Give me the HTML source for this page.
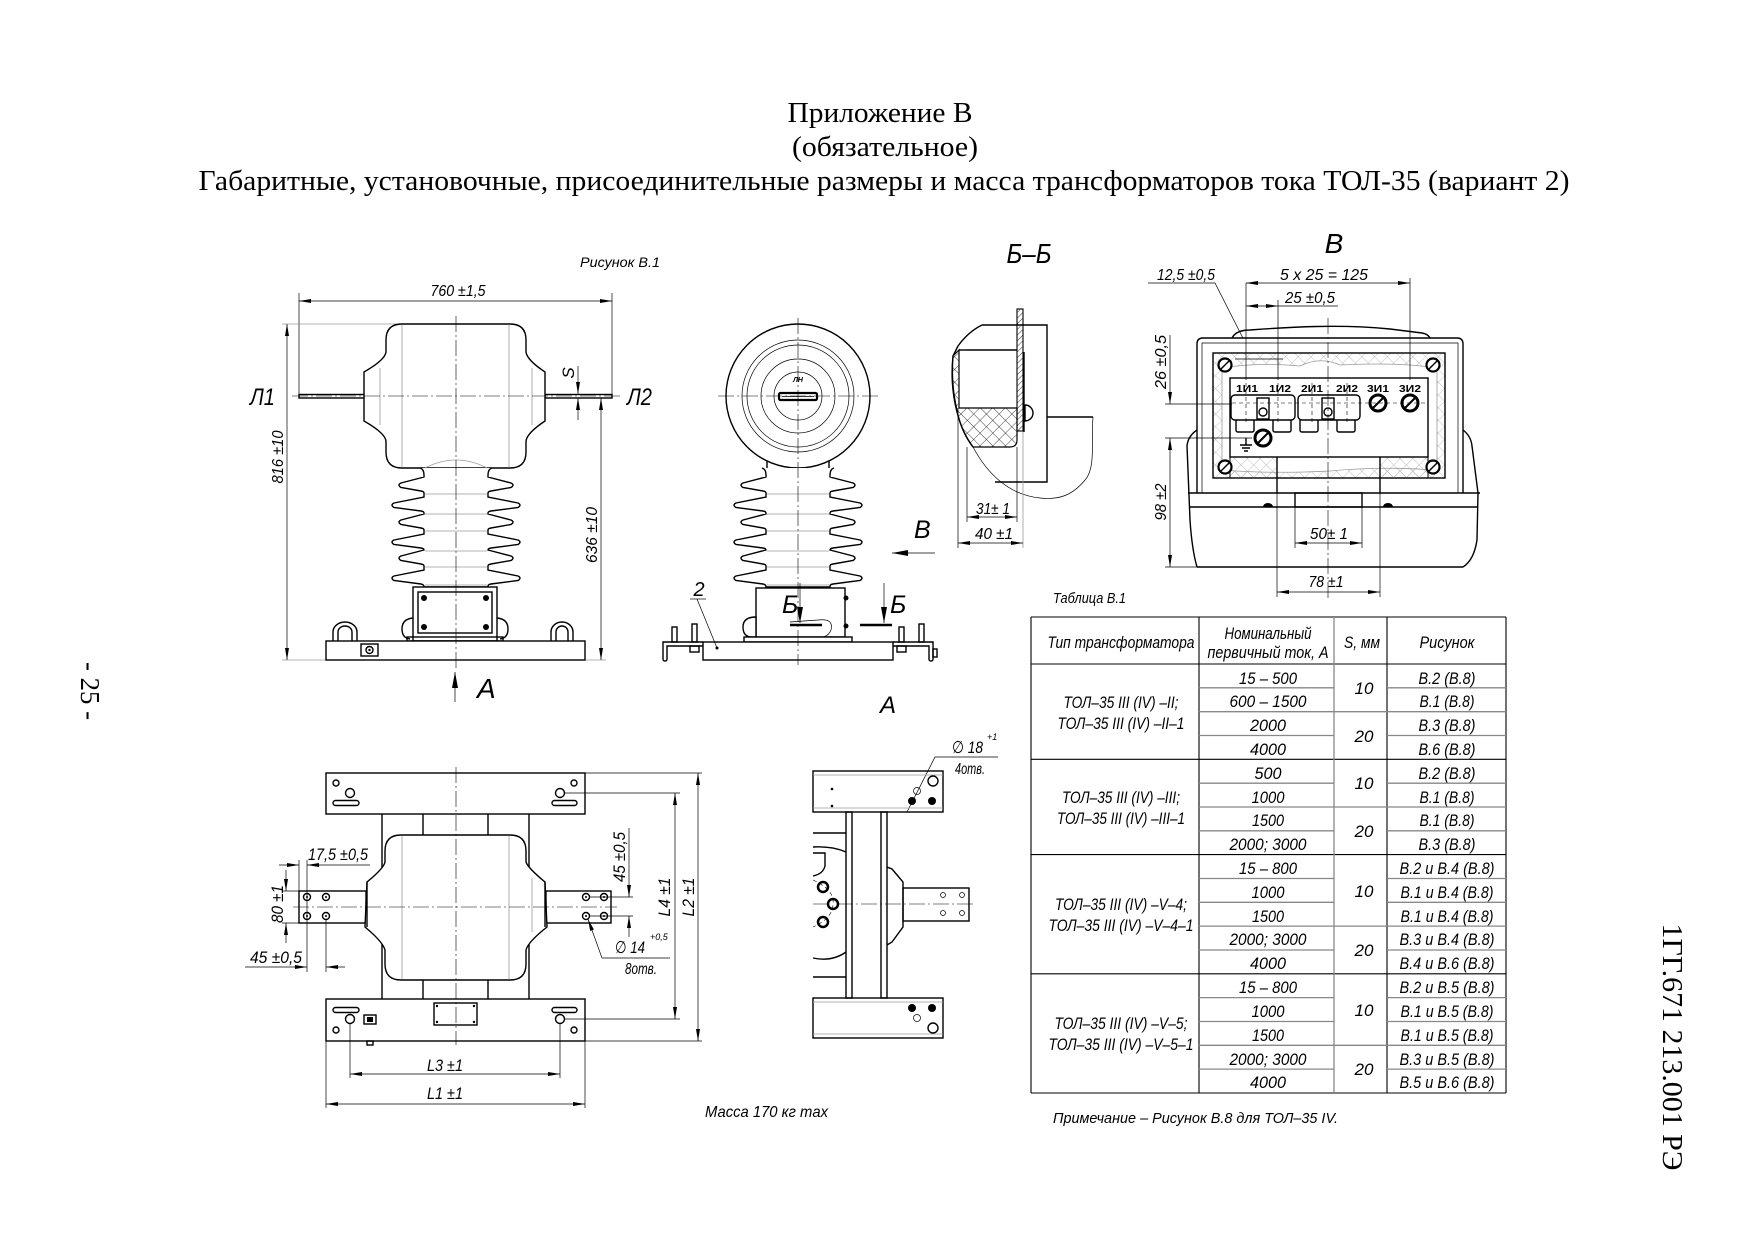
<!DOCTYPE html>
<html><head><meta charset="utf-8">
<style>
html,body{margin:0;padding:0;background:#fff;}
svg{display:block;font-family:"Liberation Sans","DejaVu Sans",sans-serif;font-style:italic;font-size:16px}
text{fill:#000}
.sr{font-family:"Liberation Serif","DejaVu Serif",serif;font-style:normal}
.o{stroke:#000;stroke-width:1.4;fill:none}
.w{stroke:#000;stroke-width:1.4;fill:#fff}
.t{stroke:#000;stroke-width:0.7;fill:none}
.g{stroke:#9a9a9a;stroke-width:0.8;fill:none}
.c{stroke:#000;stroke-width:0.6;fill:none;stroke-dasharray:16 3 2 3}
.dsh{stroke:#000;stroke-width:0.6;fill:none;stroke-dasharray:4 3}
.tb{stroke:#000;stroke-width:1.1;fill:none}
.tg{stroke:#888;stroke-width:1.3;fill:none}
</style></head><body>
<svg width="1755" height="1241" viewBox="0 0 1755 1241" xmlns="http://www.w3.org/2000/svg">
<defs>
<marker id="ar" viewBox="0 0 12 4" refX="12" refY="2" markerWidth="12" markerHeight="4" orient="auto-start-reverse" markerUnits="userSpaceOnUse"><path d="M0,0 L12,2 L0,4 z" fill="#000"/></marker>
<marker id="ar2" viewBox="0 0 16 6" refX="16" refY="3" markerWidth="16" markerHeight="6" orient="auto-start-reverse" markerUnits="userSpaceOnUse"><path d="M0,0 L16,3 L0,6 z" fill="#000"/></marker>
<pattern id="h1" width="4" height="4" patternUnits="userSpaceOnUse" patternTransform="rotate(45)"><line x1="0" y1="0" x2="0" y2="4" stroke="#000" stroke-width="0.8"/></pattern>
<pattern id="hx" width="9" height="9" patternUnits="userSpaceOnUse" patternTransform="rotate(45)"><path d="M0,0 L0,9 M0,0 L9,0" stroke="#000" stroke-width="0.7"/></pattern>
<pattern id="hg" width="9" height="9" patternUnits="userSpaceOnUse" patternTransform="rotate(45)"><path d="M0,0 L0,9 M0,0 L9,0" stroke="#aaa" stroke-width="0.7"/></pattern>
<path id="ins" class="w" d="M420,468 Q424,469 424,475 L424,477 L401,483 Q397,485 401,487.5 L421,491 Q424,491.5 424,493 L424,497 L394,503 Q390,505 394,507.5 L421,511 Q424,511.5 424,513 L424,514 L401,520 Q397,522 401,524.5 L421,528 Q424,528.5 424,530 L424,534 L394,540 Q390,542 394,544.5 L421,548 Q424,548.5 424,550 L401,556 Q397,558 401,560.5 L421,564 Q424,564.5 424,566 L424,570 L394,576 Q390,578 394,580.5 L421,584 Q424,584.5 424,587 L488,587 L488,586 Q488,584.5 491,584 L518,580.5 Q522,578 518,576 L488,570 L488,566 Q488,564.5 491,564 L511,560.5 Q515,558 511,556 L488,550 Q488,548.5 491,548 L518,544.5 Q522,542 518,540 L488,534 L488,530 Q488,528.5 491,528 L511,524.5 Q515,522 511,520 L488,514 L488,513 Q488,511.5 491,511 L518,507.5 Q522,505 518,503 L488,497 L488,493 Q488,491.5 491,491 L511,487.5 Q515,485 511,483 L488,477 L488,475 Q488,469 492,468"/>
<g id="insg">
<path class="g" d="M425,494 L487,494 M425,514 L487,514 M425,531 L487,531 M425,551 L487,551 M425,567 L487,567 M425,585 L487,585"/>
</g>
</defs>
<rect width="1755" height="1241" fill="#fff"/>

<!-- HEADER -->
<text class="sr" x="880" y="122" font-size="28" text-anchor="middle" textLength="185" lengthAdjust="spacingAndGlyphs">Приложение В</text>
<text class="sr" x="885" y="156" font-size="28" text-anchor="middle" textLength="186" lengthAdjust="spacingAndGlyphs">(обязательное)</text>
<text class="sr" x="884" y="190" font-size="28" text-anchor="middle" textLength="1371" lengthAdjust="spacingAndGlyphs">Габаритные, установочные, присоединительные размеры и масса трансформаторов тока ТОЛ-35 (вариант 2)</text>
<text class="sr" transform="translate(81,691) rotate(90)" font-size="27" text-anchor="middle" textLength="58" lengthAdjust="spacingAndGlyphs">- 25 -</text>
<text class="sr" transform="translate(1663,1047) rotate(90)" font-size="28" text-anchor="middle" textLength="247" lengthAdjust="spacingAndGlyphs">1ГГ.671 213.001 РЭ</text>

<!-- LEFT VIEW -->
<text x="620" y="267" font-size="14" text-anchor="middle" textLength="80" lengthAdjust="spacingAndGlyphs">Рисунок В.1</text>
<line class="t" x1="299" y1="293" x2="299" y2="394"/>
<line class="t" x1="612" y1="293" x2="612" y2="394"/>
<line class="t" x1="299" y1="301" x2="612" y2="301" marker-start="url(#ar)" marker-end="url(#ar)"/>
<text x="458" y="296" text-anchor="middle" textLength="55" lengthAdjust="spacingAndGlyphs">760 ±1,5</text>
<line class="g" x1="282" y1="324" x2="402" y2="324"/>
<line class="g" x1="282" y1="660" x2="606" y2="660"/>
<line class="t" x1="287" y1="324" x2="287" y2="660" marker-start="url(#ar)" marker-end="url(#ar)"/>
<text transform="translate(283,457) rotate(-90)" text-anchor="middle" textLength="53" lengthAdjust="spacingAndGlyphs">816 ±10</text>
<line class="t" x1="548" y1="398" x2="606" y2="398"/>
<line class="t" x1="601" y1="398" x2="601" y2="660" marker-start="url(#ar)" marker-end="url(#ar)"/>
<text transform="translate(597,535) rotate(-90)" text-anchor="middle" textLength="56" lengthAdjust="spacingAndGlyphs">636 ±10</text>
<line class="t" x1="578" y1="366" x2="578" y2="394" marker-end="url(#ar)"/>
<line class="t" x1="578" y1="420" x2="578" y2="398" marker-end="url(#ar)"/>
<text transform="translate(574,373) rotate(-90)" text-anchor="middle" font-size="17">S</text>
<text x="250" y="405" font-size="24" textLength="25" lengthAdjust="spacingAndGlyphs">Л1</text>
<text x="627" y="405" font-size="24" textLength="25" lengthAdjust="spacingAndGlyphs">Л2</text>

<rect class="w" x="299" y="394.5" width="66" height="3.5"/>
<rect class="w" x="545" y="394.5" width="67" height="3.5"/>
<!-- body -->
<path class="w" d="M402,324 L510,324 Q526,324 526,340 L526,352 Q527,360 545,372 L545,421 Q527,433 526,441 L526,452 Q526,468 510,468 L402,468 Q386,468 386,452 L386,441 Q385,433 364,421 L364,372 Q385,360 386,352 L386,340 Q386,324 402,324 Z"/>
<line class="g" x1="402" y1="325" x2="402" y2="467"/>
<line class="g" x1="509" y1="325" x2="509" y2="467"/>
<line class="g" x1="532" y1="368" x2="532" y2="425"/>
<line class="g" x1="380" y1="368" x2="380" y2="425"/>
<use href="#ins"/>
<use href="#insg"/>
<path class="g" d="M425,468 Q456,452 487,468"/>
<!-- box -->
<rect class="w" x="413" y="587" width="84" height="54"/>
<rect class="o" x="418" y="592" width="74" height="41"/>
<circle cx="424" cy="598" r="3" fill="#000"/>
<circle cx="486" cy="598" r="3" fill="#000"/>
<circle cx="424" cy="627" r="3" fill="#000"/>
<circle cx="486" cy="627" r="3" fill="#000"/>
<path class="o" d="M413,618 Q402,619 402,629 Q402,638 410,639"/>
<path class="o" d="M497,618 Q508,619 508,629 Q508,638 500,639"/>
<rect class="o" x="407" y="637" width="96" height="4"/>
<!-- base -->
<rect class="w" x="326" y="641" width="259" height="19"/>
<path class="o" d="M333,641 L333,632 A12,10 0 0 1 357,632 L357,641"/>
<path class="o" d="M338,641 L338,632 A7,6 0 0 1 352,632 L352,641"/>
<path class="o" d="M551,641 L551,632 A11,10 0 0 1 573,632 L573,641"/>
<path class="o" d="M556,641 L556,632 A6,6 0 0 1 568,632 L568,641"/>
<rect class="o" x="361" y="644" width="17" height="12"/>
<circle class="o" cx="369.5" cy="650" r="3.5"/>
<circle cx="369.5" cy="650" r="1.2" fill="#000"/>
<line class="c" x1="456" y1="316" x2="456" y2="668"/>
<line class="c" x1="292" y1="396" x2="620" y2="396"/>
<line class="t" x1="455" y1="702" x2="455" y2="672" marker-end="url(#ar2)"/>
<text x="477" y="698" font-size="28">А</text>

<!-- MIDDLE VIEW -->
<line class="o" x1="767" y1="460" x2="767" y2="470"/>
<line class="o" x1="829" y1="460" x2="829" y2="470"/>
<circle class="w" cx="798" cy="396" r="72"/>
<circle class="t" cx="798" cy="396" r="56"/>
<circle class="t" cx="798" cy="396" r="51"/>
<circle class="t" cx="798" cy="396" r="37"/>
<circle class="t" cx="798" cy="396" r="24"/>
<rect x="779" y="393" width="38" height="7" rx="1.5" stroke="#000" stroke-width="2.2" fill="#fff"/>
<line class="t" x1="782" y1="396.5" x2="814" y2="396.5"/>
<text x="798" y="382" font-size="7" font-weight="bold" text-anchor="middle">ЛН</text>
<use href="#ins" transform="translate(342,0)"/>
<use href="#insg" transform="translate(342,0)"/>
<rect class="w" x="756" y="588" width="89" height="49"/>
<path class="w" d="M756,617 Q743,617 743,627 Q743,637 752,637 L756,637 Z"/>
<circle cx="846" cy="598" r="2.5" fill="#000"/>
<circle cx="846" cy="626" r="2.5" fill="#000"/>
<path class="t" d="M790,622 L818,620 Q834,618 831,630 Q828,638 818,637"/>
<rect class="w" x="744" y="637" width="108" height="5"/>
<rect class="w" x="703" y="642" width="190" height="18"/>
<circle cx="717" cy="648" r="1.5" fill="#000"/>
<!-- brackets -->
<path class="o" d="M703,642 L663,642 L663,659 Q663,661 665,661 Q667,661 667,659 L667,646 L703,646"/>
<rect class="o" x="672" y="627" width="5" height="15"/>
<rect class="o" x="692" y="624" width="5" height="18"/>
<rect class="o" x="690" y="646" width="9" height="6"/>
<path class="o" d="M893,642 L933,642 L933,659 Q933,661 931,661 Q929,661 929,659 L929,646 L893,646"/>
<rect class="o" x="899" y="627" width="5" height="15"/>
<rect class="o" x="919" y="624" width="5" height="18"/>
<rect class="o" x="897" y="646" width="9" height="6"/>
<rect class="o" x="933" y="649" width="4" height="8"/>
<line class="c" x1="798" y1="318" x2="798" y2="665"/>
<line class="c" x1="718" y1="396" x2="878" y2="396"/>
<text x="699" y="596" font-size="20" text-anchor="middle">2</text>
<polyline class="t" points="690,599 706,599"/>
<line class="t" x1="697" y1="599" x2="717" y2="648"/>
<!-- section marks -->
<line class="t" x1="800" y1="583" x2="800" y2="623" marker-end="url(#ar2)"/>
<line x1="790" y1="625" x2="822" y2="625" stroke="#000" stroke-width="2.5"/>
<text x="782" y="613" font-size="25">Б</text>
<line class="t" x1="884" y1="583" x2="884" y2="623" marker-end="url(#ar2)"/>
<line x1="860" y1="625" x2="892" y2="625" stroke="#000" stroke-width="2.5"/>
<text x="890" y="613" font-size="25">Б</text>
<line class="t" x1="935" y1="553" x2="892" y2="553" marker-end="url(#ar2)"/>
<text x="914" y="538" font-size="25">В</text>

<!-- SECTION Б-Б -->
<text x="1029" y="263" font-size="28" text-anchor="middle" textLength="45" lengthAdjust="spacingAndGlyphs">Б–Б</text>
<path class="o" d="M982,325 L1047,325 L1047,482 L995,482"/>
<line class="o" x1="1047" y1="417" x2="1093" y2="417"/>
<path class="t" d="M1093,417 C1091,440 1096,468 1085,480 C1072,496 1058,500 1040,498 C1010,495 988,475 973,447"/>
<path class="o" d="M982,325 Q968,332 958,346 L953,356 Q950,385 957,412 Q962,432 973,447"/>
<path d="M953,356 L959,350 L959,408 L1017,408 L1017,440 Q1017,447 1010,447 L973,447 Q961,432 957,410 Q951,385 953,356 Z" fill="url(#hx)" stroke="#000" stroke-width="1.2"/>
<line class="o" x1="967" y1="350" x2="1017" y2="350"/>
<line class="o" x1="959" y1="350" x2="967" y2="350"/>
<rect x="1017" y="309" width="6" height="122" fill="url(#h1)" stroke="#000" stroke-width="1.1"/>
<line class="o" x1="1024" y1="352" x2="1024" y2="432"/>
<path class="w" d="M1025,405 A8,8 0 0 1 1025,421 Z"/>
<line class="t" x1="958" y1="408" x2="958" y2="548"/>
<line class="t" x1="967" y1="447" x2="967" y2="522"/>
<line class="t" x1="1017" y1="447" x2="1017" y2="522"/>
<line class="g" x1="1023" y1="432" x2="1023" y2="548"/>
<line class="t" x1="967" y1="517" x2="1017" y2="517" marker-start="url(#ar)" marker-end="url(#ar)"/>
<text x="993" y="514" text-anchor="middle" textLength="34" lengthAdjust="spacingAndGlyphs">31± 1</text>
<line class="t" x1="958" y1="543" x2="1023" y2="543" marker-start="url(#ar)" marker-end="url(#ar)"/>
<text x="994" y="539" text-anchor="middle" textLength="38" lengthAdjust="spacingAndGlyphs">40 ±1</text>

<!-- VIEW В -->
<text x="1334" y="253" font-size="28" text-anchor="middle">В</text>
<text x="1186" y="280" text-anchor="middle" textLength="58" lengthAdjust="spacingAndGlyphs">12,5 ±0,5</text>
<polyline class="t" points="1148,283 1215,283 1253,358"/>
<line class="t" x1="1246" y1="283" x2="1410" y2="283" marker-start="url(#ar)" marker-end="url(#ar)"/>
<text x="1324" y="280" text-anchor="middle" textLength="88" lengthAdjust="spacingAndGlyphs">5 x 25 = 125</text>
<line class="t" x1="1246" y1="306" x2="1278" y2="306" marker-start="url(#ar)" marker-end="url(#ar)"/>
<line class="t" x1="1278" y1="306" x2="1338" y2="306"/>
<text x="1310" y="303" text-anchor="middle" textLength="50" lengthAdjust="spacingAndGlyphs">25 ±0,5</text>
<path class="o" d="M1232,338 Q1236,330 1250,330 C1290,327 1340,324 1390,329 L1422,333 Q1428,334 1430,338"/>
<path class="w" d="M1197,493 L1197,344 Q1197,338 1203,338 L1457,338 Q1463,338 1463,344 L1463,493"/>
<path class="t" d="M1202,493 L1202,343 L1458,343 L1458,493"/>
<path class="o" d="M1197,430 Q1188,436 1187,446 L1190,520 Q1192,550 1197,567"/>
<path class="o" d="M1463,430 Q1471,436 1472,446 L1478,493 L1477,540 Q1474,560 1463,567"/>
<line class="o" x1="1197" y1="567" x2="1463" y2="567"/>
<line class="o" x1="1188" y1="493" x2="1480" y2="493"/>
<line class="o" x1="1189" y1="507" x2="1478" y2="507"/>
<rect class="o" x="1295" y="493" width="67" height="14"/>
<path d="M1263,507 A5,4 0 0 1 1273,507 Z" fill="#000"/>
<path d="M1383,507 A5,4 0 0 1 1393,507 Z" fill="#000"/>
<rect x="1213" y="353" width="232" height="125" fill="url(#hg)" stroke="#000" stroke-width="1.4"/>
<path d="M1222,368 Q1260,362 1300,366 Q1320,356 1340,365 Q1400,362 1437,368 L1437,470 Q1380,466 1330,471 Q1270,474 1222,470 Z" fill="#fff" stroke="#999" stroke-width="0.8"/>
<rect x="1230" y="457" width="47" height="21" fill="url(#hg)" stroke="#000" stroke-width="1"/>
<rect x="1380" y="457" width="48" height="21" fill="url(#hg)" stroke="#000" stroke-width="1"/>
<rect class="w" x="1230" y="378" width="198" height="79"/>
<line class="o" x1="1277" y1="457" x2="1277" y2="493"/>
<line class="o" x1="1380" y1="457" x2="1380" y2="493"/>
<g stroke="#000" stroke-width="2.2" fill="#fff">
<circle cx="1225" cy="365" r="6.5"/><circle cx="1433" cy="365" r="6.5"/>
<circle cx="1225" cy="467" r="6.5"/><circle cx="1433" cy="467" r="6.5"/>
</g>
<g stroke="#000" stroke-width="1.5">
<line x1="1221" y1="369" x2="1229" y2="361"/><line x1="1429" y1="369" x2="1437" y2="361"/>
<line x1="1221" y1="471" x2="1229" y2="463"/><line x1="1429" y1="471" x2="1437" y2="463"/>
</g>
<g font-size="10" font-weight="bold" font-style="normal" text-anchor="middle">
<text x="1247" y="392" textLength="22" lengthAdjust="spacingAndGlyphs">1И1</text>
<text x="1280" y="392" textLength="22" lengthAdjust="spacingAndGlyphs">1И2</text>
<text x="1312" y="392" textLength="22" lengthAdjust="spacingAndGlyphs">2И1</text>
<text x="1347" y="392" textLength="22" lengthAdjust="spacingAndGlyphs">2И2</text>
<text x="1378" y="392" textLength="22" lengthAdjust="spacingAndGlyphs">3И1</text>
<text x="1410" y="392" textLength="22" lengthAdjust="spacingAndGlyphs">3И2</text>
</g>
<rect class="o" x="1231" y="395" width="64" height="25" rx="4"/>
<rect class="o" x="1298" y="395" width="62" height="25" rx="4"/>
<path class="o" d="M1236,420 L1236,430 Q1236,432 1238,432 L1252,432 Q1254,432 1254,430 L1254,420"/>
<path class="o" d="M1273,420 L1273,430 Q1273,432 1275,432 L1289,432 Q1291,432 1291,430 L1291,420"/>
<path class="o" d="M1300,420 L1300,430 Q1300,432 1302,432 L1316,432 Q1318,432 1318,430 L1318,420"/>
<path class="o" d="M1337,420 L1337,430 Q1337,432 1339,432 L1353,432 Q1355,432 1355,430 L1355,420"/>
<rect class="w" x="1257" y="398" width="12" height="21"/>
<circle class="o" cx="1263" cy="412" r="4"/>
<rect class="w" x="1322" y="398" width="12" height="21"/>
<circle class="o" cx="1328" cy="412" r="4"/>
<g stroke="#000" stroke-width="3" fill="#fff">
<circle cx="1378" cy="403" r="8"/><circle cx="1410" cy="403" r="8"/><circle cx="1263" cy="438" r="8"/>
</g>
<g stroke="#000" stroke-width="2">
<line x1="1373" y1="408" x2="1383" y2="398"/><line x1="1405" y1="408" x2="1415" y2="398"/><line x1="1258" y1="443" x2="1268" y2="433"/>
</g>
<path class="o" d="M1246,438 L1246,445 M1240,445 L1252,445 M1242,448 L1250,448 M1244,451 L1248,451"/>
<line class="dsh" x1="1232" y1="403" x2="1428" y2="403"/>
<line class="dsh" x1="1246" y1="383" x2="1246" y2="422"/>
<line class="dsh" x1="1278" y1="383" x2="1278" y2="422"/>
<line class="dsh" x1="1312" y1="383" x2="1312" y2="422"/>
<line class="dsh" x1="1347" y1="383" x2="1347" y2="422"/>
<line class="t" x1="1246" y1="283" x2="1246" y2="380"/>
<line class="t" x1="1278" y1="300" x2="1278" y2="380"/>
<line class="t" x1="1410" y1="278" x2="1410" y2="380"/>
<line class="t" x1="1235" y1="359" x2="1283" y2="359"/>
<line class="t" x1="1165" y1="404" x2="1232" y2="404"/>
<line class="t" x1="1165" y1="438" x2="1252" y2="438"/>
<line class="t" x1="1165" y1="567" x2="1197" y2="567"/>
<line class="t" x1="1170" y1="335" x2="1170" y2="404" marker-end="url(#ar)"/>
<line class="t" x1="1170" y1="438" x2="1170" y2="567" marker-start="url(#ar)" marker-end="url(#ar)"/>
<text transform="translate(1166,362) rotate(-90)" text-anchor="middle" textLength="54" lengthAdjust="spacingAndGlyphs">26 ±0,5</text>
<text transform="translate(1166,502) rotate(-90)" text-anchor="middle" textLength="37" lengthAdjust="spacingAndGlyphs">98 ±2</text>
<line class="t" x1="1295" y1="507" x2="1295" y2="548"/>
<line class="t" x1="1362" y1="507" x2="1362" y2="548"/>
<line class="t" x1="1295" y1="543" x2="1362" y2="543" marker-start="url(#ar)" marker-end="url(#ar)"/>
<text x="1329" y="539" text-anchor="middle" textLength="38" lengthAdjust="spacingAndGlyphs">50± 1</text>
<line class="t" x1="1277" y1="493" x2="1277" y2="597"/>
<line class="t" x1="1380" y1="493" x2="1380" y2="597"/>
<line class="t" x1="1277" y1="592" x2="1380" y2="592" marker-start="url(#ar)" marker-end="url(#ar)"/>
<text x="1326" y="587" text-anchor="middle" textLength="35" lengthAdjust="spacingAndGlyphs">78 ±1</text>
<line class="c" x1="1328" y1="318" x2="1328" y2="600"/>

<!-- TABLE -->
<text x="1053" y="603" textLength="73" lengthAdjust="spacingAndGlyphs" font-size="15">Таблица В.1</text>
<g class="tb">
<line x1="1031" y1="617" x2="1506" y2="617"/>
<line x1="1031" y1="664" x2="1506" y2="664"/>
<line x1="1031" y1="759.3" x2="1506" y2="759.3"/>
<line x1="1031" y1="854.6" x2="1506" y2="854.6"/>
<line x1="1031" y1="973.8" x2="1506" y2="973.8"/>
<line x1="1031" y1="1093" x2="1506" y2="1093"/>
<line x1="1031" y1="617" x2="1031" y2="1093"/>
<line x1="1199" y1="617" x2="1199" y2="1093"/>
<line x1="1387" y1="617" x2="1387" y2="1093"/>
<line x1="1506" y1="617" x2="1506" y2="1093"/>
</g>
<line class="tg" x1="1334" y1="617" x2="1334" y2="1093"/>
<g class="tg">
<path d="M1199,687.8H1334M1387,687.8H1506 M1199,711.7H1506 M1199,735.5H1334M1387,735.5H1506
M1199,783.2H1334M1387,783.2H1506 M1199,807H1506 M1199,830.8H1334M1387,830.8H1506
M1199,878.5H1334M1387,878.5H1506 M1199,902.3H1334M1387,902.3H1506 M1199,926.1H1506 M1199,950H1334M1387,950H1506
M1199,997.6H1334M1387,997.6H1506 M1199,1021.5H1334M1387,1021.5H1506 M1199,1045.3H1506 M1199,1069.1H1334M1387,1069.1H1506"/>
</g>
<g font-size="17" text-anchor="middle">
<text x="1121" y="648" textLength="147" lengthAdjust="spacingAndGlyphs">Тип трансформатора</text>
<text x="1268" y="639" textLength="87" lengthAdjust="spacingAndGlyphs">Номинальный</text>
<text x="1268" y="658" textLength="121" lengthAdjust="spacingAndGlyphs">первичный ток, А</text>
<text x="1362" y="648" textLength="36" lengthAdjust="spacingAndGlyphs">S, мм</text>
<text x="1447" y="648" textLength="55" lengthAdjust="spacingAndGlyphs">Рисунок</text>

<text x="1121" y="708" textLength="115" lengthAdjust="spacingAndGlyphs">ТОЛ–35 III (IV) –II;</text>
<text x="1121" y="729" textLength="127" lengthAdjust="spacingAndGlyphs">ТОЛ–35 III (IV) –II–1</text>
<text x="1121" y="803" textLength="118" lengthAdjust="spacingAndGlyphs">ТОЛ–35 III (IV) –III;</text>
<text x="1121" y="824" textLength="128" lengthAdjust="spacingAndGlyphs">ТОЛ–35 III (IV) –III–1</text>
<text x="1121" y="910" textLength="132" lengthAdjust="spacingAndGlyphs">ТОЛ–35 III (IV) –V–4;</text>
<text x="1121" y="931" textLength="145" lengthAdjust="spacingAndGlyphs">ТОЛ–35 III (IV) –V–4–1</text>
<text x="1121" y="1029" textLength="133" lengthAdjust="spacingAndGlyphs">ТОЛ–35 III (IV) –V–5;</text>
<text x="1121" y="1050" textLength="145" lengthAdjust="spacingAndGlyphs">ТОЛ–35 III (IV) –V–5–1</text>

<text x="1364" y="694">10</text>
<text x="1364" y="742">20</text>
<text x="1364" y="789">10</text>
<text x="1364" y="837">20</text>
<text x="1364" y="897">10</text>
<text x="1364" y="956">20</text>
<text x="1364" y="1016">10</text>
<text x="1364" y="1075">20</text>

<text x="1268" y="684" textLength="58" lengthAdjust="spacingAndGlyphs">15 – 500</text>
<text x="1268" y="707" textLength="77" lengthAdjust="spacingAndGlyphs">600 – 1500</text>
<text x="1268" y="731" textLength="36" lengthAdjust="spacingAndGlyphs">2000</text>
<text x="1268" y="755" textLength="36" lengthAdjust="spacingAndGlyphs">4000</text>
<text x="1268" y="779" textLength="27" lengthAdjust="spacingAndGlyphs">500</text>
<text x="1268" y="803" textLength="33" lengthAdjust="spacingAndGlyphs">1000</text>
<text x="1268" y="826" textLength="32" lengthAdjust="spacingAndGlyphs">1500</text>
<text x="1268" y="850" textLength="77" lengthAdjust="spacingAndGlyphs">2000; 3000</text>
<text x="1268" y="874" textLength="58" lengthAdjust="spacingAndGlyphs">15 – 800</text>
<text x="1268" y="898" textLength="33" lengthAdjust="spacingAndGlyphs">1000</text>
<text x="1268" y="922" textLength="32" lengthAdjust="spacingAndGlyphs">1500</text>
<text x="1268" y="945" textLength="77" lengthAdjust="spacingAndGlyphs">2000; 3000</text>
<text x="1268" y="969" textLength="36" lengthAdjust="spacingAndGlyphs">4000</text>
<text x="1268" y="993" textLength="58" lengthAdjust="spacingAndGlyphs">15 – 800</text>
<text x="1268" y="1017" textLength="33" lengthAdjust="spacingAndGlyphs">1000</text>
<text x="1268" y="1041" textLength="32" lengthAdjust="spacingAndGlyphs">1500</text>
<text x="1268" y="1065" textLength="77" lengthAdjust="spacingAndGlyphs">2000; 3000</text>
<text x="1268" y="1088" textLength="36" lengthAdjust="spacingAndGlyphs">4000</text>

<text x="1447" y="684" textLength="57" lengthAdjust="spacingAndGlyphs">В.2 (В.8)</text>
<text x="1447" y="707" textLength="55" lengthAdjust="spacingAndGlyphs">В.1 (В.8)</text>
<text x="1447" y="731" textLength="57" lengthAdjust="spacingAndGlyphs">В.3 (В.8)</text>
<text x="1447" y="755" textLength="57" lengthAdjust="spacingAndGlyphs">В.6 (В.8)</text>
<text x="1447" y="779" textLength="57" lengthAdjust="spacingAndGlyphs">В.2 (В.8)</text>
<text x="1447" y="803" textLength="55" lengthAdjust="spacingAndGlyphs">В.1 (В.8)</text>
<text x="1447" y="826" textLength="55" lengthAdjust="spacingAndGlyphs">В.1 (В.8)</text>
<text x="1447" y="850" textLength="57" lengthAdjust="spacingAndGlyphs">В.3 (В.8)</text>
<text x="1447" y="874" textLength="95" lengthAdjust="spacingAndGlyphs">В.2 и В.4 (В.8)</text>
<text x="1447" y="898" textLength="93" lengthAdjust="spacingAndGlyphs">В.1 и В.4 (В.8)</text>
<text x="1447" y="922" textLength="93" lengthAdjust="spacingAndGlyphs">В.1 и В.4 (В.8)</text>
<text x="1447" y="945" textLength="95" lengthAdjust="spacingAndGlyphs">В.3 и В.4 (В.8)</text>
<text x="1447" y="969" textLength="95" lengthAdjust="spacingAndGlyphs">В.4 и В.6 (В.8)</text>
<text x="1447" y="993" textLength="95" lengthAdjust="spacingAndGlyphs">В.2 и В.5 (В.8)</text>
<text x="1447" y="1017" textLength="93" lengthAdjust="spacingAndGlyphs">В.1 и В.5 (В.8)</text>
<text x="1447" y="1041" textLength="93" lengthAdjust="spacingAndGlyphs">В.1 и В.5 (В.8)</text>
<text x="1447" y="1065" textLength="95" lengthAdjust="spacingAndGlyphs">В.3 и В.5 (В.8)</text>
<text x="1447" y="1088" textLength="95" lengthAdjust="spacingAndGlyphs">В.5 и В.6 (В.8)</text>
</g>
<text x="1053" y="1123" font-size="15" textLength="285" lengthAdjust="spacingAndGlyphs">Примечание – Рисунок В.8 для ТОЛ–35 IV.</text>

<!-- BOTTOM LEFT VIEW -->
<rect class="w" x="326" y="773" width="259" height="41"/>
<rect class="w" x="326" y="999" width="259" height="42"/>
<line class="o" x1="382" y1="814" x2="382" y2="999"/>
<line class="o" x1="529" y1="814" x2="529" y2="999"/>
<line class="o" x1="423" y1="814" x2="423" y2="836"/>
<line class="o" x1="488" y1="814" x2="488" y2="836"/>
<line class="o" x1="423" y1="979" x2="423" y2="999"/>
<line class="o" x1="488" y1="979" x2="488" y2="999"/>
<rect class="w" x="299" y="891" width="67" height="32"/>
<rect class="w" x="546" y="891" width="65" height="32"/>
<path class="w" d="M401,835 L510,835 Q526,835 526,851 L526,862 Q528,868 545,882 L547,927 Q528,942 526,950 L526,964 Q526,980 510,980 L401,980 Q385,980 385,964 L385,950 Q383,942 365,927 L367,882 Q384,868 385,862 L385,851 Q385,835 401,835 Z"/>
<line class="g" x1="402" y1="836" x2="402" y2="979"/>
<line class="g" x1="509" y1="836" x2="509" y2="979"/>
<line class="g" x1="532" y1="878" x2="532" y2="932"/>
<line class="o" x1="367" y1="882" x2="367" y2="927" stroke-width="2.2"/>
<line class="o" x1="545" y1="882" x2="545" y2="927" stroke-width="2.2"/>
<g class="o">
<circle cx="307" cy="897" r="3.5"/><circle cx="326" cy="897" r="3.5"/><circle cx="307" cy="916" r="3.5"/><circle cx="326" cy="916" r="3.5"/>
<circle cx="586" cy="897" r="3.5"/><circle cx="604" cy="897" r="3.5"/><circle cx="586" cy="916" r="3.5"/><circle cx="604" cy="916" r="3.5"/>
<circle cx="336" cy="783" r="3"/><circle cx="350" cy="793" r="4.5"/><circle cx="574" cy="783" r="3"/><circle cx="560" cy="793" r="4.5"/>
<rect x="333" y="800.5" width="26" height="5" rx="2.5"/><rect x="552" y="800.5" width="25" height="5" rx="2.5"/>
<rect x="333" y="1007.5" width="26" height="5" rx="2.5"/><rect x="552" y="1007.5" width="25" height="5" rx="2.5"/>
<circle cx="350" cy="1019" r="4.5"/><circle cx="336" cy="1030" r="3"/><circle cx="560" cy="1019" r="4.5"/><circle cx="574" cy="1030" r="3"/>
<rect x="364" y="1015" width="12" height="9"/>
<rect x="434" y="1003" width="43" height="22"/>
<rect x="367" y="1041" width="6" height="4"/>
</g>
<g fill="#000">
<circle cx="307" cy="897" r="1"/><circle cx="326" cy="897" r="1"/><circle cx="307" cy="916" r="1"/><circle cx="326" cy="916" r="1"/>
<circle cx="586" cy="897" r="1"/><circle cx="604" cy="897" r="1"/><circle cx="586" cy="916" r="1"/><circle cx="604" cy="916" r="1"/>
<circle cx="437" cy="1006" r="1.2"/><circle cx="474" cy="1006" r="1.2"/><circle cx="437" cy="1022" r="1.2"/><circle cx="474" cy="1022" r="1.2"/>
<rect x="367" y="1017" width="6" height="5"/>
</g>
<line class="c" x1="456" y1="767" x2="456" y2="1045"/>
<line class="c" x1="293" y1="907" x2="617" y2="907"/>
<!-- dims bottom-left -->
<line class="t" x1="299" y1="860" x2="299" y2="891"/>
<line class="t" x1="307" y1="860" x2="307" y2="972"/>
<line class="t" x1="326" y1="920" x2="326" y2="972"/>
<line class="t" x1="279" y1="865" x2="299" y2="865" marker-end="url(#ar)"/>
<line class="t" x1="370" y1="865" x2="307" y2="865" marker-end="url(#ar)"/>
<text x="338" y="860" text-anchor="middle" font-size="17" textLength="60" lengthAdjust="spacingAndGlyphs">17,5 ±0,5</text>
<line class="t" x1="282" y1="891" x2="299" y2="891"/>
<line class="t" x1="282" y1="923" x2="299" y2="923"/>
<line class="t" x1="286" y1="870" x2="286" y2="891" marker-end="url(#ar)"/>
<line class="t" x1="286" y1="943" x2="286" y2="923" marker-end="url(#ar)"/>
<text transform="translate(283,904) rotate(-90)" text-anchor="middle" font-size="17" textLength="38" lengthAdjust="spacingAndGlyphs">80 ±1</text>
<line class="t" x1="245" y1="967" x2="307" y2="967" marker-end="url(#ar)"/>
<line class="t" x1="345" y1="967" x2="326" y2="967" marker-end="url(#ar)"/>
<text x="250" y="963" font-size="17" textLength="52" lengthAdjust="spacingAndGlyphs">45 ±0,5</text>
<line class="t" x1="589" y1="897" x2="633" y2="897"/>
<line class="t" x1="589" y1="916" x2="633" y2="916"/>
<line class="t" x1="629" y1="828" x2="629" y2="897" marker-end="url(#ar)"/>
<line class="t" x1="629" y1="937" x2="629" y2="916" marker-end="url(#ar)"/>
<text transform="translate(625,857) rotate(-90)" text-anchor="middle" font-size="17" textLength="50" lengthAdjust="spacingAndGlyphs">45 ±0,5</text>
<line class="t" x1="585" y1="773" x2="702" y2="773"/>
<line class="t" x1="585" y1="1041" x2="702" y2="1041"/>
<line class="t" x1="564" y1="793" x2="680" y2="793"/>
<line class="t" x1="564" y1="1019" x2="680" y2="1019"/>
<line class="t" x1="675" y1="793" x2="675" y2="1019" marker-start="url(#ar)" marker-end="url(#ar)"/>
<line class="t" x1="698" y1="773" x2="698" y2="1041" marker-start="url(#ar)" marker-end="url(#ar)"/>
<text transform="translate(670,897) rotate(-90)" text-anchor="middle" font-size="17" textLength="39" lengthAdjust="spacingAndGlyphs">L4 ±1</text>
<text transform="translate(694,897) rotate(-90)" text-anchor="middle" font-size="17" textLength="39" lengthAdjust="spacingAndGlyphs">L2 ±1</text>
<line class="t" x1="602" y1="958" x2="588" y2="919" marker-end="url(#ar)"/>
<line class="t" x1="602" y1="958" x2="670" y2="958"/>
<text x="615" y="953" font-size="17" textLength="30" lengthAdjust="spacingAndGlyphs">∅ 14</text>
<text x="650" y="940" font-size="9">+0,5</text>
<text x="625" y="974" font-size="16" textLength="32" lengthAdjust="spacingAndGlyphs">8отв.</text>
<line class="t" x1="350" y1="1024" x2="350" y2="1078"/>
<line class="t" x1="560" y1="1024" x2="560" y2="1078"/>
<line class="t" x1="350" y1="1074" x2="560" y2="1074" marker-start="url(#ar)" marker-end="url(#ar)"/>
<text x="445" y="1071" text-anchor="middle" font-size="17" textLength="36" lengthAdjust="spacingAndGlyphs">L3 ±1</text>
<line class="t" x1="326" y1="1041" x2="326" y2="1108"/>
<line class="t" x1="585" y1="1041" x2="585" y2="1108"/>
<line class="t" x1="326" y1="1104" x2="585" y2="1104" marker-start="url(#ar)" marker-end="url(#ar)"/>
<text x="445" y="1099" text-anchor="middle" font-size="17" textLength="36" lengthAdjust="spacingAndGlyphs">L1 ±1</text>
<text x="705" y="1117" font-size="16" textLength="123" lengthAdjust="spacingAndGlyphs">Масса 170 кг max</text>

<!-- BOTTOM RIGHT VIEW A -->
<text x="888" y="713" font-size="24" text-anchor="middle">А</text>
<text x="952" y="753" font-size="17" textLength="31" lengthAdjust="spacingAndGlyphs">∅ 18</text>
<text x="987" y="740" font-size="9">+1</text>
<polyline class="t" points="998,757 935,757 907,812"/>
<text x="955" y="774" font-size="16" textLength="30" lengthAdjust="spacingAndGlyphs">4отв.</text>
<rect class="o" x="813" y="771" width="130" height="41"/>
<line class="g" x1="813" y1="775" x2="943" y2="775"/>
<line class="g" x1="813" y1="808" x2="943" y2="808"/>
<circle class="o" cx="933" cy="781" r="5"/>
<circle class="t" cx="917" cy="791" r="3.5"/>
<circle cx="912" cy="801" r="4" fill="#000"/>
<circle cx="932" cy="801" r="4" fill="#000"/>
<circle cx="832" cy="789" r="1.3" fill="#000"/>
<circle cx="832" cy="806" r="1.3" fill="#000"/>
<rect class="o" x="813" y="998" width="130" height="40"/>
<line class="g" x1="813" y1="1002" x2="943" y2="1002"/>
<line class="g" x1="813" y1="1034" x2="943" y2="1034"/>
<circle cx="912" cy="1008" r="4" fill="#000"/>
<circle cx="932" cy="1008" r="4" fill="#000"/>
<circle class="t" cx="917" cy="1018" r="3.5"/>
<circle class="o" cx="933" cy="1028" r="5"/>
<rect class="o" x="846" y="812" width="6" height="186"/>
<rect class="o" x="881" y="812" width="6" height="186"/>
<path class="o" d="M887,867 L892,869 L903,882 L903,927 L892,942 L887,945"/>
<rect class="o" x="903" y="888" width="66" height="33"/>
<g class="t"><circle cx="943" cy="895" r="2.5"/><circle cx="962" cy="895" r="2.5"/><circle cx="943" cy="913" r="2.5"/><circle cx="962" cy="913" r="2.5"/></g>
<line class="c" x1="813" y1="904" x2="975" y2="904"/>
<line class="o" x1="813" y1="833" x2="846" y2="833"/>
<path class="o" d="M813,847 Q832,846 846,852"/>
<path class="o" d="M813,853 L825,853 L825,866 Q823,874 813,876"/>
<path class="o" d="M813,958 Q832,962 846,952"/>
<line class="o" x1="813" y1="977" x2="846" y2="977"/>
<g stroke="#000" stroke-width="2.5" fill="#fff">
<circle cx="823" cy="887" r="5"/><circle cx="833" cy="904" r="5"/><circle cx="823" cy="922" r="5"/>
</g>
<path class="dsh" d="M813,880 Q835,890 833,904 Q833,918 813,927"/>
</svg>
</body></html>
